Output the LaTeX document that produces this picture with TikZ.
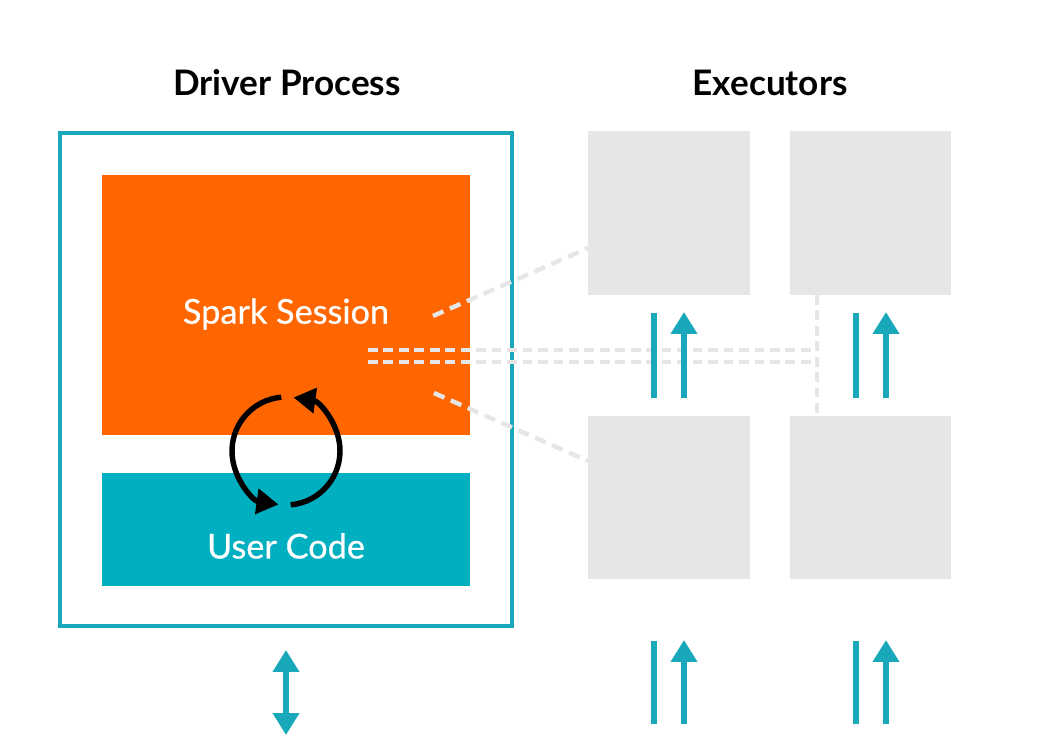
\documentclass[tikz,border=0pt]{standalone}
\usepackage{fontspec}
\setmainfont{Lato}
\newfontfamily\labelfont{Lato}[FakeBold=0.6]
\usetikzlibrary{arrows.meta}
\definecolor{sparkorange}{RGB}{255,102,0}
\definecolor{tealfill}{RGB}{0,176,192}
\definecolor{tealline}{RGB}{24,168,186}
\definecolor{execgray}{RGB}{229,230,232}
\definecolor{dashgray}{RGB}{230,230,230}
\tikzset{
  title/.style={font=\bfseries\fontsize{20}{24}\selectfont, text=black, inner sep=0pt},
  whitelabel/.style={font=\labelfont\fontsize{19.5}{23}\selectfont, text=white, inner sep=0pt},
  execbox/.style={fill=execgray, draw=none, minimum width=3.24cm, minimum height=3.28cm, inner sep=0pt},
  dashline/.style={draw=dashgray, line width=2.5pt, dash pattern=on 6.5pt off 4pt},
  tealarrow/.style={draw=tealline, line width=3.4pt, -{Triangle[length=12.5pt,width=14.5pt]}},
  tealbar/.style={draw=tealline, line width=3.4pt},
  cyclearrow/.style={draw=black, line width=3.1pt, -{Triangle[length=12.5pt,width=14pt]}}
}
\begin{document}
\begin{tikzpicture}[x=0.02cm, y=-0.02cm]
\useasboundingbox[fill=white] (0,0) rectangle (1048,744);

% titles
\node[title] (tdriver) at (287,83) {Driver Process};
\node[title] (texec) at (770,83) {Executors};

% driver box
\node[draw=tealline, line width=2.4pt, minimum width=9.04cm, minimum height=9.86cm, inner sep=0pt] (driver) at (286,379.5) {};
\node[fill=sparkorange, minimum width=7.36cm, minimum height=5.2cm, inner sep=0pt] (spark) at (286,305) {};
\node[fill=tealfill, minimum width=7.36cm, minimum height=2.26cm, inner sep=0pt] (user) at (286,529.5) {};
\node[whitelabel] (sparklabel) at (286,314) {Spark Session};
\node[whitelabel] (userlabel) at (286,546) {User Code};

% cycle arrows
\coordinate (cyc) at (286,451);
\draw[cyclearrow] ([shift={(265:54)}]cyc) arc[start angle=265, end angle=98, radius=54];
\draw[cyclearrow] ([shift={(85:54)}]cyc) arc[start angle=85, end angle=-82, radius=54];

% executors
\node[execbox] (e1) at (669,213) {};
\node[execbox] (e2) at (870.5,213) {};
\node[execbox] (e3) at (669,497.5) {};
\node[execbox] (e4) at (870.5,497.5) {};

% dashed connections
\coordinate (d1) at (433,316);
\coordinate (d1e) at (588,248);
\coordinate (d2) at (434,393);
\coordinate (d2e) at (588,461);
\coordinate (h1) at (368,350);
\coordinate (h1e) at (813,350);
\coordinate (h2) at (368,362);
\coordinate (h2e) at (813,362);
\coordinate (v1) at (817,295);
\coordinate (v1e) at (817,415);
\draw[dashline] (d1) -- (d1e);
\draw[dashline] (d2) -- (d2e);
\draw[dashline, dash pattern=on 5.5pt off 3.3pt] (h1) -- (h1e);
\draw[dashline, dash pattern=on 5.5pt off 3.3pt] (h2) -- (h2e);
\draw[dashline, dash pattern=on 5.5pt off 3.3pt] (v1) -- (v1e);

% teal arrow pairs between executor rows
\coordinate (p1a) at (654,398); \coordinate (p1b) at (654,313);
\coordinate (p2a) at (684,398); \coordinate (p2b) at (684,312);
\coordinate (p3a) at (856,398); \coordinate (p3b) at (856,313);
\coordinate (p4a) at (886,398); \coordinate (p4b) at (886,312);
\draw[tealbar] (p1a) -- (p1b);
\draw[tealarrow] (p2a) -- (p2b);
\draw[tealbar] (p3a) -- (p3b);
\draw[tealarrow] (p4a) -- (p4b);

% bottom arrows
\coordinate (q1a) at (654,724); \coordinate (q1b) at (654,641);
\coordinate (q2a) at (684,724); \coordinate (q2b) at (684,640);
\coordinate (q3a) at (856,724); \coordinate (q3b) at (856,641);
\coordinate (q4a) at (886,724); \coordinate (q4b) at (886,640);
\draw[tealbar] (q1a) -- (q1b);
\draw[tealarrow] (q2a) -- (q2b);
\draw[tealbar] (q3a) -- (q3b);
\draw[tealarrow] (q4a) -- (q4b);

% driver double arrow
\coordinate (r1) at (286,650);
\coordinate (r2) at (286,735);
\draw[tealarrow, {Triangle[length=12.5pt,width=14.5pt]}-{Triangle[length=12.5pt,width=14.5pt]}] (r1) -- (r2);
\end{tikzpicture}
\end{document}
